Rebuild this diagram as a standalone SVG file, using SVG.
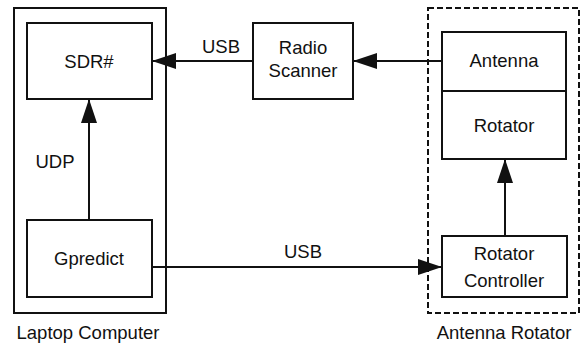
<svg xmlns="http://www.w3.org/2000/svg" width="581" height="346" viewBox="0 0 581 346">
<style>
.box{fill:none;stroke:#111;stroke-width:2}
.dash{fill:none;stroke:#111;stroke-width:2;stroke-dasharray:6 3}
.edge{fill:none;stroke:#111;stroke-width:2}
text{font-family:"Liberation Sans",Arial,sans-serif;font-size:18.5px;fill:#111;text-anchor:middle}
</style>
<defs>
<marker id="arr" viewBox="0 0 24 16" refX="23" refY="8" markerWidth="24" markerHeight="16" markerUnits="userSpaceOnUse" orient="auto">
<path d="M0,0 L24,8 L0,16 Z" fill="#111"/>
</marker>
</defs>
<rect width="581" height="346" fill="#fff"/>
<g id="laptop">
<rect class="box" x="14" y="8" width="152" height="305"/>
<text x="88" y="339">Laptop Computer</text>
</g>
<g id="antenna-rotator-group">
<rect class="dash" x="428" y="8" width="151" height="305"/>
<text x="504" y="339">Antenna Rotator</text>
</g>
<g id="sdr">
<rect class="box" x="27" y="23" width="125" height="76"/>
<text x="89" y="68">SDR#</text>
</g>
<g id="scanner">
<rect class="box" x="253" y="23" width="100" height="76"/>
<text x="303" y="54">Radio</text>
<text x="303" y="77">Scanner</text>
</g>
<g id="antenna">
<rect class="box" x="442" y="32" width="124" height="59"/>
<text x="504" y="67">Antenna</text>
</g>
<g id="rotator">
<rect class="box" x="442" y="91" width="124" height="68"/>
<text x="504" y="132">Rotator</text>
</g>
<g id="gpredict">
<rect class="box" x="27" y="220" width="125" height="77"/>
<text x="89" y="265">Gpredict</text>
</g>
<g id="controller">
<rect class="box" x="442" y="236" width="125" height="61"/>
<text x="504" y="260">Rotator</text>
<text x="504" y="287">Controller</text>
</g>
<g id="connectors">
<path class="edge" d="M253,61 H153" marker-end="url(#arr)"/>
<text x="221" y="53">USB</text>
<path class="edge" d="M442,61 H354" marker-end="url(#arr)"/>
<path class="edge" d="M89,220 V100" marker-end="url(#arr)"/>
<text x="55" y="168">UDP</text>
<path class="edge" d="M152,267 H441" marker-end="url(#arr)"/>
<text x="303" y="258">USB</text>
<path class="edge" d="M505,236 V160" marker-end="url(#arr)"/>
</g>
</svg>
